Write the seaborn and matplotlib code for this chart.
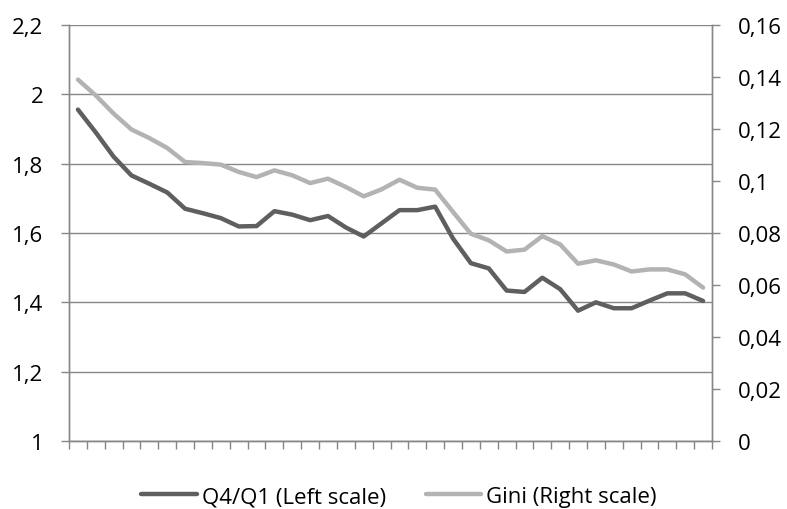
import matplotlib
matplotlib.use("Agg")
import matplotlib.pyplot as plt
import seaborn as sns
import pandas as pd
from matplotlib.ticker import FuncFormatter, MultipleLocator

# datos (36 periodos)
periodos = list(range(1, 37))
q4_q1 = [1.956, 1.89, 1.82, 1.766, 1.742, 1.717, 1.670, 1.657, 1.643, 1.619,
         1.620, 1.663, 1.653, 1.637, 1.649, 1.616, 1.590, 1.628, 1.666, 1.666,
         1.676, 1.584, 1.513, 1.498, 1.434, 1.430, 1.471, 1.438, 1.376, 1.400,
         1.383, 1.383, 1.405, 1.426, 1.426, 1.404]
gini = [0.1390, 0.1329, 0.1259, 0.1198, 0.1165, 0.1127, 0.1073, 0.1069, 0.1063, 0.1035,
        0.1015, 0.1041, 0.1022, 0.0992, 0.1009, 0.0977, 0.0941, 0.0968, 0.1005, 0.0974,
        0.0967, 0.0881, 0.0797, 0.0772, 0.0729, 0.0736, 0.0788, 0.0756, 0.0682, 0.0695,
        0.0679, 0.0652, 0.0660, 0.0660, 0.0641, 0.0590]

df = pd.DataFrame({"periodo": periodos, "q4_q1": q4_q1, "gini": gini})

sns.set_style("white")
plt.rcParams["font.family"] = ["Open Sans", "DejaVu Sans"]

oscuro = "#5f5f5f"
claro = "#b3b3b3"
gris = "#878787"

fig = plt.figure(figsize=(7.87, 5.10), dpi=100)
ax = fig.add_axes([0.0877, 0.1333, 0.8170, 0.8157])
ax2 = ax.twinx()

sns.lineplot(data=df, x="periodo", y="q4_q1", ax=ax, color=oscuro, lw=3.2,
             label="Q4/Q1 (Left scale)", legend=False, zorder=3)
sns.lineplot(data=df, x="periodo", y="gini", ax=ax2, color=claro, lw=3.2,
             label="Gini (Right scale)", legend=False, zorder=3)

ax.set_ylim(1, 2.2)
ax.yaxis.set_major_locator(MultipleLocator(0.2))
ax2.set_ylim(0, 0.16)
ax2.yaxis.set_major_locator(MultipleLocator(0.02))
ax.set_xlim(0.5, 36.5)

coma = lambda v, p: ("%g" % round(v, 3)).replace(".", ",")
ax.yaxis.set_major_formatter(FuncFormatter(coma))
ax2.yaxis.set_major_formatter(FuncFormatter(coma))

# marcas de categoría en el eje x, sin etiquetas
ax.set_xticks([p + 0.5 for p in [0] + periodos])
ax.set_xticklabels([])
ax.tick_params(axis="x", direction="out", length=5.5, color=gris, width=1, bottom=True)
ax.tick_params(axis="y", direction="out", length=6, color=gris, width=1, left=True,
               labelsize=16, pad=12.5, labelcolor="black")
ax2.tick_params(axis="y", direction="out", length=6, color=gris, width=1, right=True,
                labelsize=16, pad=12.5, labelcolor="black")

ax.grid(axis="y", color=gris, lw=1)
ax.set_axisbelow(True)
ax.set_xlabel("")
ax.set_ylabel("")
ax2.set_ylabel("")

for a in (ax, ax2):
    a.spines["top"].set_visible(False)
    for lado in ["left", "right", "bottom"]:
        a.spines[lado].set_color(gris)
        a.spines[lado].set_linewidth(1)

h1, l1 = ax.get_legend_handles_labels()
h2, l2 = ax2.get_legend_handles_labels()
fig.legend(h1 + h2, l1 + l2, loc="center", bbox_to_anchor=(0.507, 0.024), ncol=2,
           frameon=False, fontsize=16, handlelength=2.5, handletextpad=0.23,
           columnspacing=1.8, labelcolor="black", borderpad=0)

fig.savefig("out.png", dpi=100)
